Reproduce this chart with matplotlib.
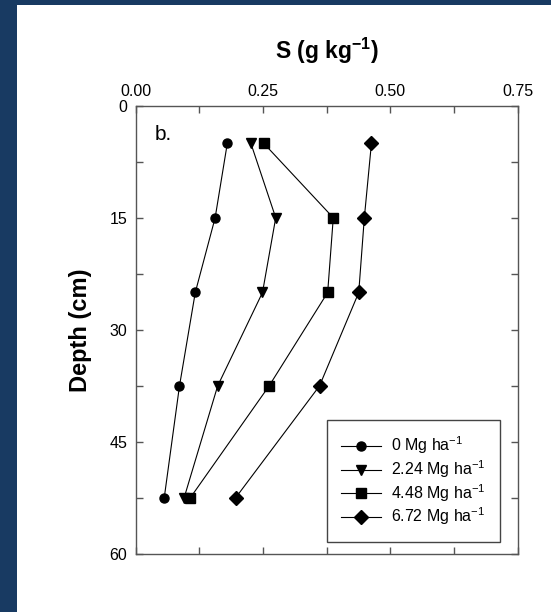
import matplotlib
matplotlib.use("Agg")
from matplotlib import pyplot as plt
from matplotlib.patches import Rectangle

plt.rcParams['font.family'] = ['Liberation Sans', 'DejaVu Sans']
plt.rcParams['mathtext.fontset'] = 'custom'
plt.rcParams['mathtext.rm'] = 'Liberation Sans'
plt.rcParams['mathtext.bf'] = 'Liberation Sans:bold'
plt.rcParams['mathtext.default'] = 'regular'

# depth (cm) and S concentration (g/kg) per application rate
depth = [5, 15, 25, 37.5, 52.5]
s_0 = [0.180, 0.156, 0.117, 0.086, 0.056]
s_224 = [0.226, 0.275, 0.249, 0.161, 0.095]
s_448 = [0.251, 0.388, 0.377, 0.262, 0.107]
s_672 = [0.463, 0.449, 0.438, 0.361, 0.196]
labels = ['0 Mg ha$^{-1}$', '2.24 Mg ha$^{-1}$', '4.48 Mg ha$^{-1}$', '6.72 Mg ha$^{-1}$']
markers = ['o', 'v', 's', 'D']
msizes = [6.5, 7.5, 6.5, 7.5]

fig = plt.figure(figsize=(5.51, 6.12), dpi=100)
fig.patch.set_facecolor('#183a62')
fig.patches.append(Rectangle((17/551, 0), 1 - 17/551, 1 - 5/612, transform=fig.transFigure,
                             facecolor='white', edgecolor='none', zorder=-10))

ax = fig.add_axes([135.7/551, 1 - 554/612, 381.9/551, 448.3/612])
for vals, lab, m, ms in zip([s_0, s_224, s_448, s_672], labels, markers, msizes):
    ax.plot(vals, depth, color='black', marker=m, markersize=ms, linewidth=0.8, label=lab)

ax.set_xlim(0, 0.75)
ax.set_ylim(60, 0)
ax.set_xticks([0, 0.25, 0.5, 0.75])
ax.set_xticks([0.125, 0.375, 0.625], minor=True)
ax.set_xticklabels(['0.00', '0.25', '0.50', '0.75'])
ax.set_yticks([0, 15, 30, 45, 60])
ax.set_yticks([7.5, 22.5, 37.5, 52.5], minor=True)
ax.xaxis.tick_top()
ax.tick_params(which='both', direction='in', length=5, width=1, color='#555555',
               top=True, bottom=True, left=True, right=True, labelsize=11.5)
ax.tick_params(axis='x', pad=5)
ax.tick_params(axis='y', pad=6)
for sp in ax.spines.values():
    sp.set_color('#555555')
    sp.set_linewidth(1)

ax.set_ylabel('Depth (cm)', fontsize=17, fontweight='bold')
ax.yaxis.set_label_coords(-0.115, 0.5)
fig.text(326.7/551, 1 - 50.7/612, r'S (g kg$^{\mathbf{-1}}$)', fontsize=16.5, fontweight='bold',
         ha='center', va='center')
ax.text(0.05, 0.935, 'b.', transform=ax.transAxes, fontsize=15, va='center', ha='left')

leg = ax.legend(loc='lower right', bbox_to_anchor=(0.9544, 0.0274), fontsize=11.5,
                frameon=True, fancybox=False, framealpha=1, edgecolor='#444444',
                handlelength=2.5, handletextpad=0.63, labelspacing=0.12, borderpad=0.9,
                borderaxespad=0)
leg.get_frame().set_linewidth(1)

fig.savefig('out.png', dpi=100, facecolor=fig.get_facecolor())
